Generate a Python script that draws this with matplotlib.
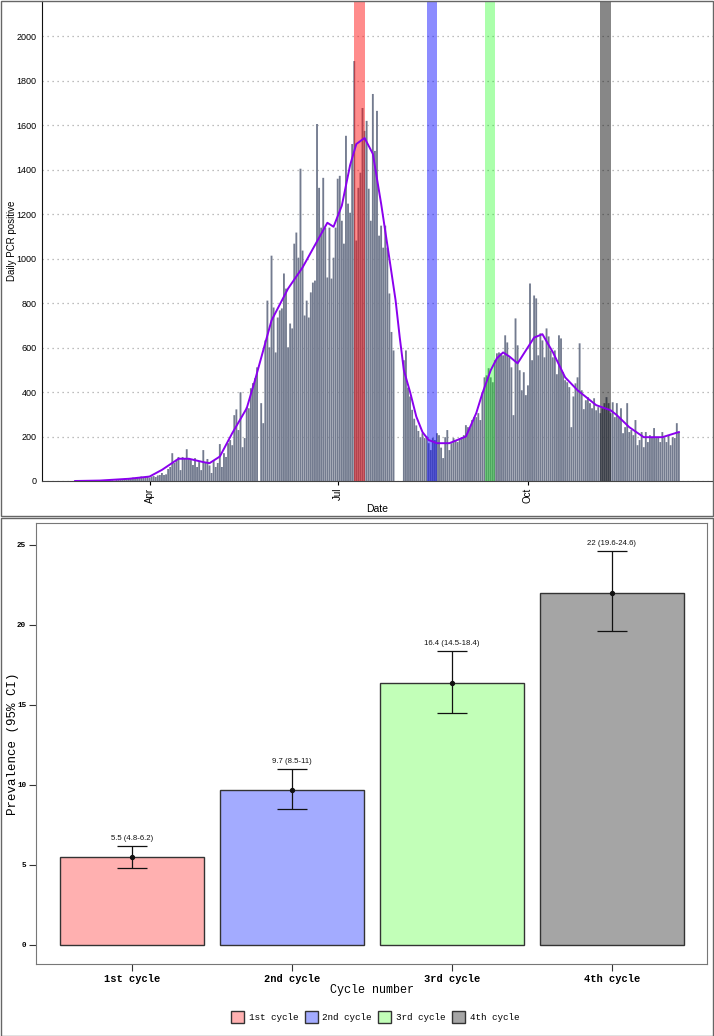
import numpy as np
import pandas as pd
import matplotlib
matplotlib.use('Agg')
import matplotlib.pyplot as plt
import matplotlib.dates as mdates
from matplotlib.patches import Rectangle, Patch

nan = np.nan
# ---------------- data: daily PCR positives ----------------
start_date = '2020-02-25'
daily_pcr_positive = [
    # Feb 25-29
    0, 1, 0, 0, 1,
    # Mar
    0, 0, 0, 0, 1, 0, 0, 0, 0, 1, 2, 3, 5, 4, 2, 6,
    5, 8, 6, 10, 7, 12, 9, 15, 11, 18, 14, 20, 16, 18, 22,
    # Apr
    15, 20, 22, 18, 25, 27, 36, 27, 30, 54, 63, 125, 81, 95, 108,
    49, 108, 103, 143, 103, 94, 72, 103, 63, 85, 49, 139, 81, 99, 70,
    # May
    36, 94, 63, 81, 166, 63, 125, 108, 170, 184, 161, 296, 322, 229, 399,
    152, 193, 332, 327, 417, 440, 462, 511, nan, 350, 260, 632, 811, 601, 1013, 780,
    # Jun
    578, 735, 767, 776, 933, 865, 601, 708, 686, 1067, 1117, 1004, 1404, 1036, 744,
    811, 735, 848, 892, 901, 1605, 1318, 1139, 1363, 1139, 915, 1139, 910, 1004, 1139,
    # Jul
    1359, 1372, 1170, 1067, 1552, 1247, 1206, 1515, 1888, 1081, 1318, 1386, 1677, 1574, 1619,
    1314, 1170, 1740, 1484, 1664, 1103, 1148, 1049, 1148, 1049, 843, 670, 587, nan, nan, nan,
    # Aug
    nan, 543, 587, 420, 380, 320, 280, 250, 225, 197, 215, 193, 200, 170, 139,
    193, 184, 215, 206, 150, 103, 197, 229, 139, 170, 193, 184, 175, 193, 197, 206,
    # Sep
    251, 242, 238, 274, 287, 287, 305, 274, 399, 466, 475, 507, 466, 444, 543,
    574, 578, 574, 565, 655, 623, 556, 511, 296, 731, 610, 498, 408, 489, 386,
    # Oct
    430, 888, 543, 834, 821, 565, 664, 632, 556, 686, 650, 587, 556, 587, 480,
    655, 641, 489, 453, 444, 422, 242, 380, 439, 466, 619, 408, 323, 363, 377, 350,
    # Nov
    327, 372, 318, 332, 305, 327, 350, 377, 350, 305, 354, 287, 350, 283, 327,
    215, 242, 350, 220, 229, 206, 274, 161, 184, 220, 152, 220, 175, 206, 197,
    # Dec 1-13
    238, 193, 197, 175, 220, 197, 175, 206, 161, 197, 193, 260, 220,
]

smooth_dates = ['2020-02-25', '2020-03-08', '2020-03-22', '2020-04-01', '2020-04-07',
                '2020-04-15', '2020-04-20', '2020-04-27', '2020-04-30', '2020-05-05',
                '2020-05-11', '2020-05-18', '2020-05-22', '2020-05-30', '2020-06-07',
                '2020-06-14', '2020-06-26', '2020-06-29', '2020-07-03', '2020-07-07',
                '2020-07-10', '2020-07-14', '2020-07-18', '2020-07-22', '2020-07-26',
                '2020-07-29', '2020-07-31', '2020-08-02', '2020-08-05', '2020-08-08',
                '2020-08-11', '2020-08-14', '2020-08-18', '2020-08-24', '2020-09-01',
                '2020-09-06', '2020-09-09', '2020-09-13', '2020-09-16', '2020-09-19',
                '2020-09-22', '2020-09-26', '2020-09-30', '2020-10-04', '2020-10-08',
                '2020-10-13', '2020-10-19', '2020-10-25', '2020-11-03', '2020-11-10',
                '2020-11-13', '2020-11-19', '2020-11-26', '2020-12-05', '2020-12-13']
smooth_values = [0, 2, 10, 20, 50,
                 100, 100, 85, 80, 110,
                 215, 327, 453, 722, 865,
                 960, 1161, 1143, 1238, 1420,
                 1515, 1542, 1471, 1247, 1000,
                 812, 646, 498, 400, 290,
                 220, 184, 170, 170, 200,
                 305, 395, 498, 552, 578,
                 560, 529, 587, 645, 660,
                 580, 466, 408, 341, 318,
                 296, 242, 197, 197, 220]

cycle_band_starts = ['2020-07-09', '2020-08-13', '2020-09-10', '2020-11-05']
cycle_band_ends = ['2020-07-14', '2020-08-18', '2020-09-15', '2020-11-10']

# ---------------- data: prevalence per cycle ----------------
cycles = ['1st cycle', '2nd cycle', '3rd cycle', '4th cycle']
prevalence = [5.5, 9.7, 16.4, 22]
ci_low = [4.8, 8.5, 14.5, 19.6]
ci_high = [6.2, 11, 18.4, 24.6]

# ---------------- styles ----------------
band_colors = ['#ff0000', '#0000ff', '#00ff00', '#000000']
band_alphas = [0.45, 0.45, 0.33, 0.47]
cycle_colors = ['#ffb0b0', '#a3abff', '#c2ffb8', '#a5a5a5']
bar_color = '#737b8f'
line_color = '#8a00ee'
sans = ['Liberation Sans', 'DejaVu Sans']
mono = ['Liberation Mono', 'DejaVu Sans Mono']

W, H = 714, 1036
fig = plt.figure(figsize=(W / 100, H / 100), dpi=100)

# ================= top panel =================
ax1 = fig.add_axes([42 / W, 1 - 481 / H, (713 - 42) / W, 480 / H])
dates = pd.date_range(start_date, periods=len(daily_pcr_positive), freq='D')
vals = np.array(daily_pcr_positive, dtype=float)
bars = ax1.bar(dates, vals, width=0.9, color=bar_color, linewidth=0, zorder=2)
for b in bars:
    b.set_snap(False)
for s, e, c, a in zip(cycle_band_starts, cycle_band_ends, band_colors, band_alphas):
    ax1.axvspan(pd.Timestamp(s), pd.Timestamp(e), color=c, alpha=a, linewidth=0, zorder=3)
ax1.plot(pd.to_datetime(smooth_dates), smooth_values, color=line_color, lw=1.4, zorder=4)

ax1.set_xlim(pd.Timestamp('2020-02-09'), pd.Timestamp('2020-12-29 12:00'))
ax1.set_ylim(0, 2158)
ax1.set_yticks(np.arange(0, 2001, 200))
ax1.yaxis.grid(True, linestyle=(0, (1, 3)), color='#a8a8a8', lw=0.9, zorder=0)
ax1.set_axisbelow(True)
ax1.xaxis.set_major_locator(mdates.MonthLocator(bymonth=[4, 7, 10]))
ax1.xaxis.set_major_formatter(mdates.DateFormatter('%b'))
for lab in ax1.get_yticklabels():
    lab.set_fontfamily(sans)
    lab.set_fontsize(6.5)
for lab in ax1.get_xticklabels():
    lab.set_fontfamily(sans)
    lab.set_fontsize(7)
    lab.set_rotation(90)
ax1.tick_params(axis='y', length=0, pad=4)
ax1.tick_params(axis='x', length=3, width=0.8, pad=2)
ax1.spines['top'].set_visible(False)
ax1.spines['right'].set_visible(False)
ax1.spines['left'].set_color('#111111')
ax1.spines['bottom'].set_color('#444444')
ax1.set_ylabel('Daily PCR positive', fontfamily=sans, fontsize=7)
ax1.yaxis.set_label_coords(-0.037, 0.5)
ax1.set_xlabel('Date', fontfamily=sans, fontsize=7.5)
ax1.xaxis.set_label_coords(0.5, -0.048)

# ================= bottom panel =================
ax2 = fig.add_axes([36 / W, 1 - 964 / H, (707 - 36) / W, 441 / H])
x = np.arange(len(cycles))
ax2.bar(x, prevalence, width=0.9, color=cycle_colors, edgecolor='#333333', linewidth=1.0, zorder=2)
yerr = [np.array(prevalence) - np.array(ci_low), np.array(ci_high) - np.array(prevalence)]
ax2.errorbar(x, prevalence, yerr=yerr, fmt='o', color='#111111', ms=2.8,
             elinewidth=0.9, capsize=11, capthick=0.9, zorder=3)
for xi, p, lo, hi in zip(x, prevalence, ci_low, ci_high):
    ax2.annotate(f'{p:g} ({lo:g}-{hi:g})', (xi, hi), xytext=(0, 5.4),
                 textcoords='offset points', ha='center', va='center',
                 fontfamily=sans, fontsize=5.6, color='#111111')
ax2.set_xlim(-0.6, 3.594)
ax2.set_ylim(-1.19, 26.375)
ax2.set_yticks([0, 5, 10, 15, 20, 25])
ax2.set_xticks(x)
ax2.set_xticklabels(cycles)
for lab in ax2.get_xticklabels():
    lab.set_fontfamily(mono)
    lab.set_fontsize(7.5)
    lab.set_fontweight('bold')
for lab in ax2.get_yticklabels():
    lab.set_fontfamily(mono)
    lab.set_fontsize(5.5)
    lab.set_fontweight('bold')
ax2.tick_params(axis='both', length=5, width=0.8, color='#333333', pad=2)
for sp in ax2.spines.values():
    sp.set_color('#777777')
    sp.set_linewidth(0.8)
ax2.set_ylabel('Prevalence (95% CI)', fontfamily=mono, fontsize=9)
ax2.yaxis.set_label_coords(-0.026, 0.5)
ax2.set_xlabel('Cycle number', fontfamily=mono, fontsize=8.5)
ax2.xaxis.set_label_coords(0.5, -0.046)

handles = [Patch(facecolor=c, edgecolor='#333333', linewidth=1.0) for c in cycle_colors]
leg = fig.legend(handles, cycles, loc='center', bbox_to_anchor=(375 / W, 1 - 1017 / H),
                 ncol=4, frameon=False, prop={'family': mono, 'size': 6.7},
                 handlelength=1.4, handleheight=1.5, handletextpad=0.5, columnspacing=0.7)

# panel frames
fig.add_artist(Rectangle((0.5 / W, 1 - 516 / H), (W - 1.5) / W, 515.5 / H,
                         transform=fig.transFigure, fill=False, edgecolor='#666666', lw=1.0))
fig.add_artist(Rectangle((0.5 / W, 0.5 / H), (W - 1.5) / W, (H - 518) / H,
                         transform=fig.transFigure, fill=False, edgecolor='#666666', lw=1.0))

fig.savefig('out.png', dpi=100)
